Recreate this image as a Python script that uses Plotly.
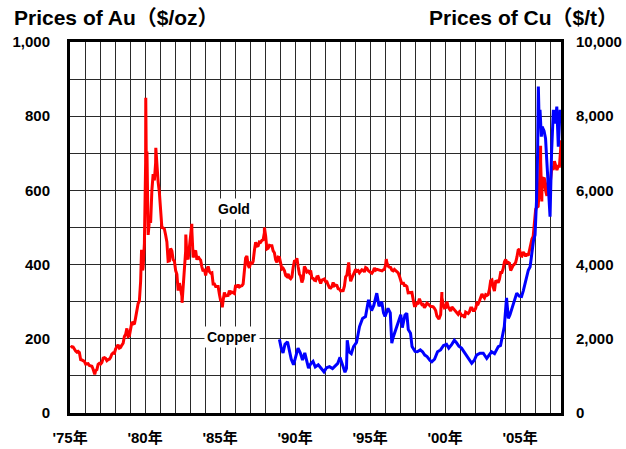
import plotly.graph_objects as go

# Gold: monthly average prices ($/oz), Jan 1975 - Sep 2007
gold_start_year = 1975
gold_monthly = [
    176, 179, 178, 170, 167, 164, 166, 163, 144, 143, 142, 139,   # 1975
    132, 132, 133, 128, 127, 126, 118, 110, 114, 117, 131, 134,   # 1976
    132, 136, 148, 149, 147, 141, 144, 145, 150, 159, 162, 161,   # 1977
    173, 178, 184, 175, 177, 183, 188, 206, 212, 228, 206, 208,   # 1978
    227, 245, 242, 239, 257, 279, 295, 302, 355, 392, 392, 456,   # 1979
    675, 665, 554, 517, 513, 600, 644, 627, 674, 661, 623, 594,   # 1980
    557, 500, 499, 496, 480, 461, 409, 410, 444, 437, 413, 410,   # 1981
    384, 374, 330, 350, 334, 315, 339, 364, 436, 422, 414, 444,   # 1982
    481, 491, 419, 432, 438, 413, 422, 416, 412, 394, 382, 388,   # 1983
    371, 387, 395, 381, 377, 378, 348, 348, 341, 341, 341, 320,   # 1984
    303, 299, 304, 325, 316, 317, 317, 330, 323, 326, 325, 322,   # 1985
    345, 339, 346, 340, 342, 343, 348, 376, 418, 423, 398, 391,   # 1986
    408, 401, 409, 438, 460, 450, 451, 461, 460, 465, 467, 486,   # 1987
    477, 442, 444, 452, 451, 451, 437, 432, 413, 406, 420, 419,   # 1988
    404, 388, 390, 384, 371, 368, 375, 365, 362, 367, 392, 409,   # 1989
    410, 417, 394, 375, 369, 352, 362, 395, 389, 380, 382, 378,   # 1990
    384, 364, 363, 358, 357, 367, 368, 356, 349, 358, 360, 361,   # 1991
    354, 354, 345, 338, 337, 341, 352, 343, 345, 344, 335, 334,   # 1992
    329, 330, 330, 342, 367, 372, 392, 379, 355, 364, 373, 383,   # 1993
    387, 382, 384, 378, 381, 386, 385, 380, 392, 390, 384, 380,   # 1994
    379, 377, 382, 391, 385, 387, 386, 383, 383, 383, 386, 387,   # 1995
    400, 405, 396, 393, 392, 385, 383, 387, 383, 381, 378, 369,   # 1996
    355, 347, 352, 344, 344, 341, 324, 324, 323, 325, 306, 289,   # 1997
    289, 297, 296, 308, 299, 292, 293, 284, 289, 296, 294, 291,   # 1998
    287, 287, 286, 282, 276, 261, 256, 257, 265, 311, 293, 283,   # 1999
    284, 300, 286, 280, 275, 286, 282, 275, 274, 270, 266, 272,   # 2000
    266, 262, 263, 260, 272, 270, 268, 273, 283, 283, 276, 276,   # 2001
    282, 296, 294, 302, 314, 321, 314, 310, 319, 317, 319, 333,   # 2002
    357, 359, 340, 329, 355, 356, 351, 360, 379, 379, 389, 407,   # 2003
    414, 405, 406, 404, 384, 392, 398, 401, 406, 420, 439, 442,   # 2004
    424, 423, 434, 429, 422, 430, 424, 438, 456, 469, 476, 510,   # 2005
    549, 555, 557, 610, 676, 596, 633, 632, 599, 585, 627, 629,   # 2006
    631, 665, 655, 679, 667, 655, 665, 665, 712,                  # 2007
]

# Gold: intra-month highs and lows (decimal year, $/oz)
gold_extreme_t = [1976.65, 1979.77, 1979.85, 1979.99, 1980.05, 1980.09, 1980.13,
                  1980.21, 1980.72, 1982.47, 1982.72, 1983.12, 1985.15, 1987.96,
                  1993.58, 1996.08, 1999.60, 1999.79, 2001.30, 2006.37, 2006.45,
                  2007.72]
gold_extreme_v = [104, 440, 385, 520, 850, 650, 705,
                  480, 715, 297, 481, 510, 285, 500,
                  406, 415, 253, 326, 256, 720, 570,
                  735]

# Copper ($/t), decimal year
copper_t = [1988.96, 1989.08, 1989.20, 1989.33, 1989.50, 1989.62, 1989.75, 1989.90,
            1990.05, 1990.20, 1990.35, 1990.50, 1990.65, 1990.80, 1990.90,
            1991.05, 1991.20, 1991.35, 1991.55, 1991.75, 1991.93,
            1992.10, 1992.30, 1992.50, 1992.70, 1992.85,
            1993.00, 1993.15, 1993.33, 1993.43, 1993.48, 1993.60, 1993.75, 1993.90,
            1994.10, 1994.30, 1994.50, 1994.70, 1994.90,
            1995.10, 1995.25, 1995.45, 1995.60, 1995.78, 1995.90,
            1996.00, 1996.20, 1996.35, 1996.45, 1996.55, 1996.70, 1996.90,
            1997.05, 1997.15, 1997.33, 1997.45, 1997.55, 1997.70, 1997.80,
            1998.00, 1998.15, 1998.35, 1998.50, 1998.65, 1998.80,
            1999.00, 1999.12, 1999.30, 1999.50, 1999.70, 1999.90,
            2000.10, 2000.25, 2000.45, 2000.62, 2000.75, 2000.92,
            2001.10, 2001.33, 2001.55, 2001.78, 2001.95,
            2002.10, 2002.33, 2002.55, 2002.78, 2002.95,
            2003.10, 2003.30, 2003.55, 2003.70, 2003.85, 2003.95,
            2004.10, 2004.22, 2004.33, 2004.55, 2004.78, 2004.95,
            2005.10, 2005.22, 2005.33, 2005.45, 2005.55, 2005.67, 2005.78, 2005.90,
            2006.00, 2006.10, 2006.17, 2006.22, 2006.28, 2006.33, 2006.42, 2006.47,
            2006.60, 2006.70, 2006.78, 2006.90,
            2007.00, 2007.10, 2007.22, 2007.35, 2007.45, 2007.55, 2007.62, 2007.67,
            2007.72]
copper_v = [1985, 1750, 1620, 1850, 1920, 1700, 1450, 1300,
            1520, 1750, 1620, 1430, 1620, 1400, 1210,
            1330, 1390, 1240, 1300, 1200, 1110,
            1220, 1250, 1200, 1290, 1340,
            1500, 1290, 1100, 1200, 1960, 1650, 1600, 1790,
            1900, 2330, 2550, 2600, 3050,
            2760, 2900, 3230, 2880, 3000, 2700,
            2600, 2820, 2700, 1880, 2050, 2240, 2500,
            2650, 2300, 2640, 2690, 2250, 2150, 1790,
            1660, 1650, 1700, 1650, 1560, 1520,
            1420, 1380, 1450, 1650, 1700, 1820,
            1850, 1750, 1850, 1960, 1900, 1800,
            1750, 1610, 1500, 1340, 1420,
            1560, 1610, 1610, 1470, 1580,
            1650, 1600, 1790, 1820, 2150, 2330,
            3100, 2550, 2650, 2960, 3230, 3150,
            3140, 3300, 3500, 3680, 3850, 3940, 4300, 4660,
            4800, 5740, 7000, 8800, 7720, 8170, 7450, 7720,
            7600, 7400, 6820, 6100,
            5290, 7000, 8170, 7800, 8260, 7180, 7600, 8170,
            8000]

# Axis labels
year_ticks = list(range(1975, 2008))
year_labels = ["'75年", "'80年", "'85年", "'90年", "'95年", "'00年", "'05年"]
gold_ticks = list(range(0, 1001, 100))
gold_labels = ["0", "200", "400", "600", "800", "1,000"]
copper_ticks = list(range(0, 10001, 2000))
copper_labels = ["0", "2,000", "4,000", "6,000", "8,000", "10,000"]

# Merge monthly midpoints with intra-month extremes
monthly_t = [gold_start_year + (i + 0.5) / 12 for i in range(len(gold_monthly))]
gold_pts = sorted(list(zip(monthly_t, gold_monthly)) + list(zip(gold_extreme_t, gold_extreme_v)))
gold_t = [p[0] for p in gold_pts]
gold_v = [p[1] for p in gold_pts]

FONT = "Liberation Sans, Arial, Noto Sans CJK JP, sans-serif"
label_font = dict(family=FONT, size=15, color="black", weight="bold")
GRID = "#2a2a2a"

x_text = [year_labels[(y - 1975) // 5] if (y - 1975) % 5 == 0 else "" for y in year_ticks]
y_text = [gold_labels[v // 200] if v % 200 == 0 else "" for v in gold_ticks]

fig = go.Figure()
fig.add_trace(go.Scatter(x=gold_t, y=gold_v, mode="lines", name="Gold",
                         line=dict(color="#ff0000", width=3), yaxis="y"))
fig.add_trace(go.Scatter(x=copper_t, y=copper_v, mode="lines", name="Copper",
                         line=dict(color="#0000ff", width=3), yaxis="y2"))

fig.update_layout(
    width=626, height=449,
    margin=dict(l=70, r=65, t=42, b=36, autoexpand=False),
    paper_bgcolor="white", plot_bgcolor="white",
    showlegend=False,
    xaxis=dict(range=[1975, 2007.73], tickmode="array", tickvals=year_ticks, ticktext=x_text,
               showgrid=True, gridcolor=GRID, gridwidth=1, zeroline=False,
               showline=True, linecolor="black", linewidth=3, mirror=True, automargin=False,
               ticks="", tickfont=label_font, ticklabelstandoff=9),
    yaxis=dict(range=[0, 1000], tickmode="array", tickvals=gold_ticks, ticktext=y_text,
               showgrid=True, gridcolor=GRID, gridwidth=1, zeroline=False,
               showline=True, linecolor="black", linewidth=3, mirror=True, automargin=False,
               ticks="", tickfont=label_font, ticklabelstandoff=14),
    yaxis2=dict(range=[0, 10000], overlaying="y", side="right", tickmode="array",
                tickvals=copper_ticks, ticktext=copper_labels,
                showgrid=False, zeroline=False, automargin=False,
                showline=True, linecolor="black", linewidth=3,
                ticks="", tickfont=label_font, ticklabelstandoff=9),
    annotations=[
        dict(text="Prices of Au（$/oz）", xref="paper", yref="paper", x=-0.118, y=1.065,
             xanchor="left", yanchor="middle", showarrow=False,
             font=dict(family=FONT, size=21, color="black", weight="bold")),
        dict(text="Prices of Cu（$/t）", xref="paper", yref="paper", x=1.120, y=1.065,
             xanchor="right", yanchor="middle", showarrow=False,
             font=dict(family=FONT, size=21, color="black", weight="bold")),
        dict(text="Gold", x=1985.93, y=550, xref="x", yref="y", showarrow=False,
             bgcolor="white", borderpad=2,
             font=dict(family=FONT, size=14, color="black", weight="bold")),
        dict(text="Copper", x=1985.78, y=206, xref="x", yref="y", showarrow=False,
             bgcolor="white", borderpad=2,
             font=dict(family=FONT, size=14, color="black", weight="bold")),
    ],
)

fig.write_html("out.html")
